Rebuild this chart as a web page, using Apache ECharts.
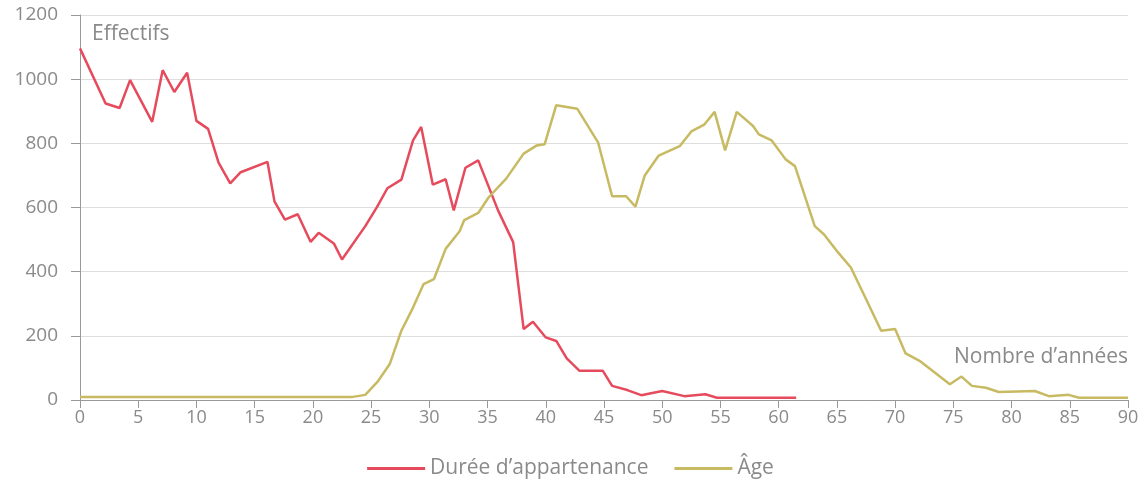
<!DOCTYPE html>
<html>
<head>
<meta charset="utf-8">
<script src="https://cdn.jsdelivr.net/npm/echarts@6/dist/echarts.min.js"></script>
<style>
  html, body { margin: 0; padding: 0; background: #fff; }
  #chart { width: 1141px; height: 480px; }
</style>
</head>
<body>
<div id="chart"></div>
<script>
// Durée d'appartenance (years) -> effectifs
const dureeX = [0, 2.2, 3.4, 4.3, 6.2, 7.1, 8.1, 9.2, 10.0, 11.0, 11.9, 12.9, 13.8, 16.1, 16.7, 17.6, 18.7, 19.8, 20.5, 21.8, 22.5, 24.5, 25.5, 26.4, 27.6, 28.6, 29.3, 30.3, 31.4, 32.1, 33.1, 34.2, 35.9, 37.2, 38.1, 38.9, 40.0, 40.9, 41.8, 42.9, 44.9, 45.7, 47.0, 48.2, 50.0, 51.9, 53.7, 54.7, 61.5];
const dureeY = [1096, 924, 910, 997, 867, 1028, 960, 1020, 870, 845, 740, 675, 710, 742, 619, 562, 579, 493, 521, 488, 438, 542, 601, 660, 687, 809, 851, 671, 688, 591, 724, 747, 591, 492, 221, 244, 195, 184, 130, 91, 91, 44, 31, 15, 28, 12, 18, 7, 7];

// Âge (years) -> effectifs
const ageX = [0, 23.3, 24.5, 25.6, 26.6, 27.6, 28.6, 29.5, 30.4, 31.4, 32.6, 33.0, 34.2, 35.1, 36.6, 38.1, 39.2, 39.9, 40.9, 42.7, 44.5, 45.7, 46.9, 47.7, 48.5, 49.7, 51.5, 52.5, 53.6, 54.5, 55.4, 56.4, 57.8, 58.3, 59.4, 60.6, 61.4, 63.1, 63.9, 65.1, 66.2, 67.5, 68.8, 70.0, 70.9, 72.1, 74.7, 75.7, 76.6, 77.8, 78.9, 82.0, 83.2, 84.9, 85.8, 90];
const ageY = [9, 9, 16, 59, 112, 216, 288, 361, 377, 471, 526, 561, 583, 632, 690, 768, 793, 797, 919, 908, 802, 635, 635, 603, 700, 762, 791, 837, 858, 898, 778, 898, 854, 828, 809, 750, 729, 542, 516, 460, 413, 315, 216, 221, 145, 122, 49, 73, 44, 38, 25, 28, 12, 16, 7, 7];

const seriesNames = ["Durée d’appartenance", "Âge"];

const myChart = echarts.init(document.getElementById("chart"));

function pairs(xs, ys) {
  return xs.map((x, i) => [x, ys[i]]);
}

const textColor = "#8a8a8a";
const font = "'Open Sans', sans-serif";

const option = {
  animation: false,
  grid: { left: 80, right: 13, top: 15, bottom: 80, outerBoundsMode: "none" },
  legend: {
    top: 453,
    left: "center",
    icon: "rect",
    itemWidth: 58,
    itemHeight: 3,
    itemGap: 26,
    textStyle: { color: textColor, fontSize: 21, fontFamily: font },
    data: seriesNames
  },
  xAxis: {
    type: "value",
    min: 0,
    max: 90,
    interval: 5,
    name: "Nombre d’années",
    nameLocation: "end",
    nameGap: 0,
    nameTextStyle: {
      color: textColor, fontSize: 21, fontFamily: font,
      align: "right", verticalAlign: "bottom", padding: [0, 0, 32, 0]
    },
    axisLine: { show: true, lineStyle: { color: "#999", width: 1 } },
    axisTick: { show: true, length: 8, lineStyle: { color: "#999" } },
    axisLabel: { color: textColor, fontSize: 18, fontFamily: font, margin: 9 },
    splitLine: { show: false }
  },
  yAxis: {
    type: "value",
    min: 0,
    max: 1200,
    interval: 200,
    name: "Effectifs",
    nameLocation: "end",
    nameGap: 0,
    nameTextStyle: {
      color: textColor, fontSize: 21, fontFamily: font,
      align: "left", verticalAlign: "top", padding: [9, 0, 0, 12]
    },
    axisLine: { show: true, lineStyle: { color: "#999", width: 1 } },
    axisTick: { show: true, length: 9, lineStyle: { color: "#999" } },
    axisLabel: {
      color: textColor, fontSize: 19, fontFamily: font, margin: 8,
      padding: [0, 14, 0, 0],
      formatter: (v) => String(v)
    },
    splitLine: { show: true, lineStyle: { color: "#dedede", width: 1 } }
  },
  series: [
    {
      name: seriesNames[0],
      type: "line",
      symbol: "none",
      lineStyle: { color: "#e64b5d", width: 2.5 },
      itemStyle: { color: "#e64b5d" },
      data: pairs(dureeX, dureeY)
    },
    {
      name: seriesNames[1],
      type: "line",
      symbol: "none",
      lineStyle: { color: "#c8ba62", width: 2.5 },
      itemStyle: { color: "#c8ba62" },
      data: pairs(ageX, ageY)
    }
  ]
};

myChart.setOption(option);
</script>
</body>
</html>
